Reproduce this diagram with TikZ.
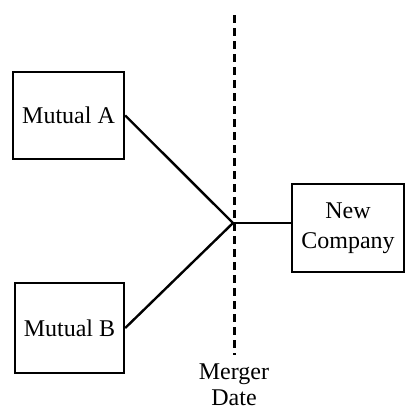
\documentclass[tikz,border=0pt]{standalone}
\usepackage{fontspec}
\setmainfont{Liberation Serif}
\usetikzlibrary{positioning}

\begin{document}
\begin{tikzpicture}[x=0.5pt, y=-0.5pt, line width=1.2pt,
  every node/.style={font=\fontsize{12}{15}\selectfont},
  firm/.style={draw, rectangle, align=center, inner sep=0pt}]
\useasboundingbox (0,0) rectangle (417,412);

\node[firm, minimum width=55.5pt, minimum height=43.5pt] (mutA) at (68.5,115.5) {Mutual A};
\node[firm, minimum width=54.5pt, minimum height=45pt] (mutB) at (69.5,328) {Mutual B};
\node[firm, minimum width=56pt, minimum height=44pt] (newco) at (348,228) {New\\Company};

\coordinate (merge) at (233,223);
\coordinate (top) at (234,15);
\coordinate (bot) at (234,355);
\node[align=center, inner sep=0pt, below=4pt of bot,
  font=\fontsize{12}{13}\selectfont] (date) {Merger\\Date};

\draw[line width=1.5pt, dash pattern=on 4pt off 2.5pt] (top) -- (bot);
\draw (mutA.east) -- (merge);
\draw (mutB.east) -- (merge);
\draw (merge) -- (merge -| newco.west);
\end{tikzpicture}
\end{document}
